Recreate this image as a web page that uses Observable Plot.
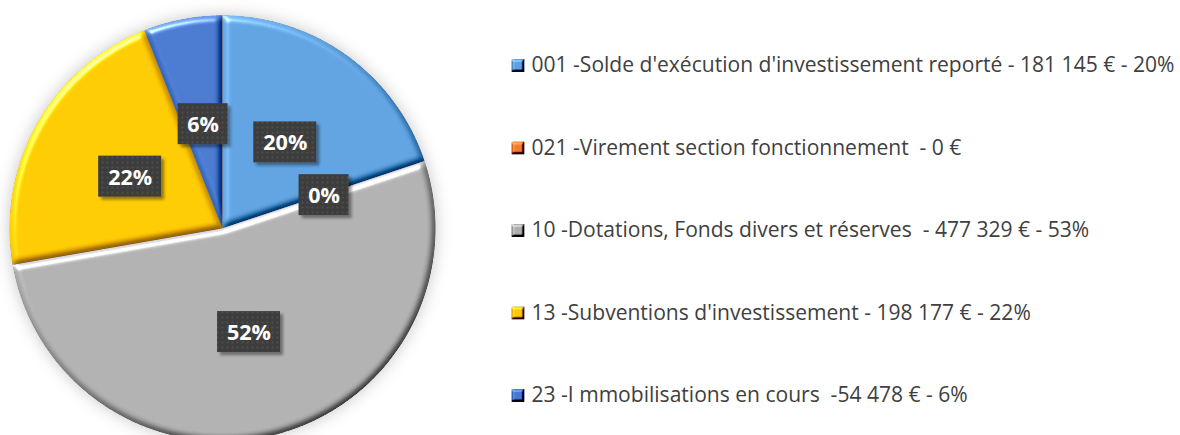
<!DOCTYPE html>
<html><head><meta charset="utf-8">
<script src="https://cdn.jsdelivr.net/npm/d3@7"></script>
<script src="https://cdn.jsdelivr.net/npm/@observablehq/plot@0.6"></script>
<style>
html,body{margin:0;padding:0;background:#fff;}
#chart svg{display:block;}
#chart text{white-space:pre;}
</style>
</head><body><div id="chart"></div>
<script>
// ---- data ----
const categories = [
  "001 -Solde d'exécution d'investissement reporté",
  "021 -Virement section fonctionnement ",
  "10 -Dotations, Fonds divers et réserves ",
  "13 -Subventions d'investissement",
  "23 -I mmobilisations en cours "
];
const values = [181145, 0, 477329, 198177, 54478];
const legendLabels = [
  "001 -Solde d'exécution d'investissement reporté - 181 145 € - 20%",
  "021 -Virement section fonctionnement  - 0 €",
  "10 -Dotations, Fonds divers et réserves  - 477 329 € - 53%",
  "13 -Subventions d'investissement - 198 177 € - 22%",
  "23 -I mmobilisations en cours  -54 478 € - 6%"
];
const colors = ["#5DA0DD", "#ED7D31", "#AEAEAE", "#FFC800", "#4878CE"];

// ---- layout ----
const W = 1180, H = 435;
const cx = 222.5, cy = 228.3, R = 213;
const total = d3.sum(values);
const arcs = d3.pie().sort(null).value(d => d)(values);
const pt = (a, r) => [cx + r * Math.sin(a), cy - r * Math.cos(a)];

// wedge = area between arc points (x1,y1) and the centre (x2,y2)
const slicePts = [];
arcs.forEach((a, i) => {
  if (a.endAngle - a.startAngle <= 0) return;
  const n = Math.max(2, Math.ceil((a.endAngle - a.startAngle) / (Math.PI / 360)));
  for (let j = 0; j <= n; j++) {
    const ang = a.startAngle + (a.endAngle - a.startAngle) * j / n;
    const [x, y] = pt(ang, R);
    slicePts.push({k: i, x1: x, y1: y, x2: cx, y2: cy});
  }
});
const circlePts = d3.range(0, 721).map(j => {
  const [x, y] = pt(j * Math.PI / 360, R);
  return {x1: x, y1: y, x2: cx, y2: cy};
});

const labels = arcs.map((a, i) => {
  const mid = (a.startAngle + a.endAngle) / 2;
  const [x, y] = pt(mid, R * 0.5);
  const t = Math.round(values[i] / total * 100) + "%";
  const w = 13 * t.length + 24;
  return {x, y, t, x1: x - w / 2, x2: x + w / 2, y1: y - 20.5, y2: y + 20.5};
});

// legend font fit
const ctx = document.createElement("canvas").getContext("2d");
ctx.font = "20px 'Open Sans'";
const legendFont = 20 * 643 / ctx.measureText(legendLabels[0]).width;
const legend = legendLabels.map((t, i) => ({t, i, x: 517.5, tx: 531, y: 65 + i * 82.5}));

const sliceMarks = arcs.map((a, i) =>
  Plot.area(slicePts.filter(d => d.k === i), {x1: "x1", y1: "y1", x2: "x2", y2: "y2", fill: colors[i], stroke: "none", ariaDescription: "slice"})
);

const chart = Plot.plot({
  width: W, height: H,
  marginTop: 0, marginRight: 0, marginBottom: 0, marginLeft: 0,
  x: {domain: [0, W], range: [0, W], axis: null},
  y: {domain: [0, H], range: [0, H], axis: null},
  style: {background: "#fff"},
  marks: [
    Plot.area(circlePts, {x1: "x1", y1: "y1", x2: "x2", y2: "y2", fill: "#000", fillOpacity: 0.22, stroke: "none", ariaDescription: "shadow"}),
    ...sliceMarks,
    Plot.rect(labels, {x1: "x1", x2: "x2", y1: "y1", y2: "y2", fill: "#3f3f3f", ariaDescription: "labelbox"}),
    Plot.text(labels, {x: "x", y: "y", text: "t", fill: "#fff", fontSize: 21.5, fontWeight: "bold", fontFamily: "'Open Sans'", dy: 1}),
    Plot.dot(legend, {x: "x", y: "y", symbol: "square", r: 7.3, fill: d => colors[d.i], stroke: "none", ariaDescription: "legendkey"}),
    Plot.text(legend, {x: "tx", y: "y", text: "t", textAnchor: "start", fill: "#404040", fontSize: legendFont, fontFamily: "'Open Sans'"})
  ]
});

// ---- effects (filters / pattern) ----
const svg = d3.select(chart);
const defs = svg.insert("defs", ":first-child");
defs.html(`
<filter id="shadow" x="-20%" y="-20%" width="140%" height="140%">
  <feGaussianBlur stdDeviation="8"/>
</filter>
<filter id="bevel" x="-10%" y="-10%" width="120%" height="120%" color-interpolation-filters="sRGB">
  <feGaussianBlur in="SourceAlpha" stdDeviation="3.2" result="b"/>
  <feDiffuseLighting in="b" surfaceScale="4" diffuseConstant="1" lighting-color="#fff" result="d">
    <feDistantLight azimuth="235" elevation="50"/>
  </feDiffuseLighting>
  <feComposite in="SourceGraphic" in2="d" operator="arithmetic" k1="0" k2="1" k3="0.65" k4="-0.4979" result="lit"/>
  <feSpecularLighting in="b" surfaceScale="4" specularConstant="0.8" specularExponent="35" lighting-color="#fff" result="s">
    <feDistantLight azimuth="235" elevation="40"/>
  </feSpecularLighting>
  <feComposite in="s" in2="SourceAlpha" operator="in" result="s2"/>
  <feComposite in="lit" in2="SourceAlpha" operator="in" result="lit2"/>
  <feComposite in="lit2" in2="s2" operator="arithmetic" k1="0" k2="1" k3="0.75" k4="0"/>
</filter>
<filter id="bevelsmall" x="-20%" y="-20%" width="140%" height="140%" color-interpolation-filters="sRGB">
  <feGaussianBlur in="SourceAlpha" stdDeviation="1.3" result="b"/>
  <feDiffuseLighting in="b" surfaceScale="4" diffuseConstant="1" lighting-color="#fff" result="d">
    <feDistantLight azimuth="235" elevation="50"/>
  </feDiffuseLighting>
  <feComposite in="SourceGraphic" in2="d" operator="arithmetic" k1="0" k2="1" k3="1.1" k4="-0.8426" result="lit"/>
  <feComposite in="lit" in2="SourceAlpha" operator="in"/>
</filter>
<filter id="boxshadow" x="-30%" y="-30%" width="170%" height="170%">
  <feGaussianBlur in="SourceAlpha" stdDeviation="1.8"/>
  <feOffset dx="3" dy="3" result="o"/>
  <feComponentTransfer><feFuncA type="linear" slope="0.4"/></feComponentTransfer>
  <feMerge><feMergeNode/><feMergeNode in="SourceGraphic"/></feMerge>
</filter>
<pattern id="dots" width="5" height="5" patternUnits="userSpaceOnUse">
  <rect width="5" height="5" fill="#3e3e3e"/>
  <circle cx="2.5" cy="2.5" r="0.9" fill="#4f4f4f"/>
</pattern>
`);
svg.selectAll('g[aria-description="shadow"] path').attr("filter", "url(#shadow)");
svg.selectAll('g[aria-description="slice"] path').attr("filter", "url(#bevel)");
svg.selectAll('g[aria-description="legendkey"] path').attr("filter", "url(#bevelsmall)");
svg.selectAll('g[aria-description="labelbox"] rect').attr("fill", "url(#dots)").attr("filter", "url(#boxshadow)");

document.getElementById("chart").appendChild(chart);
</script>
</body></html>
